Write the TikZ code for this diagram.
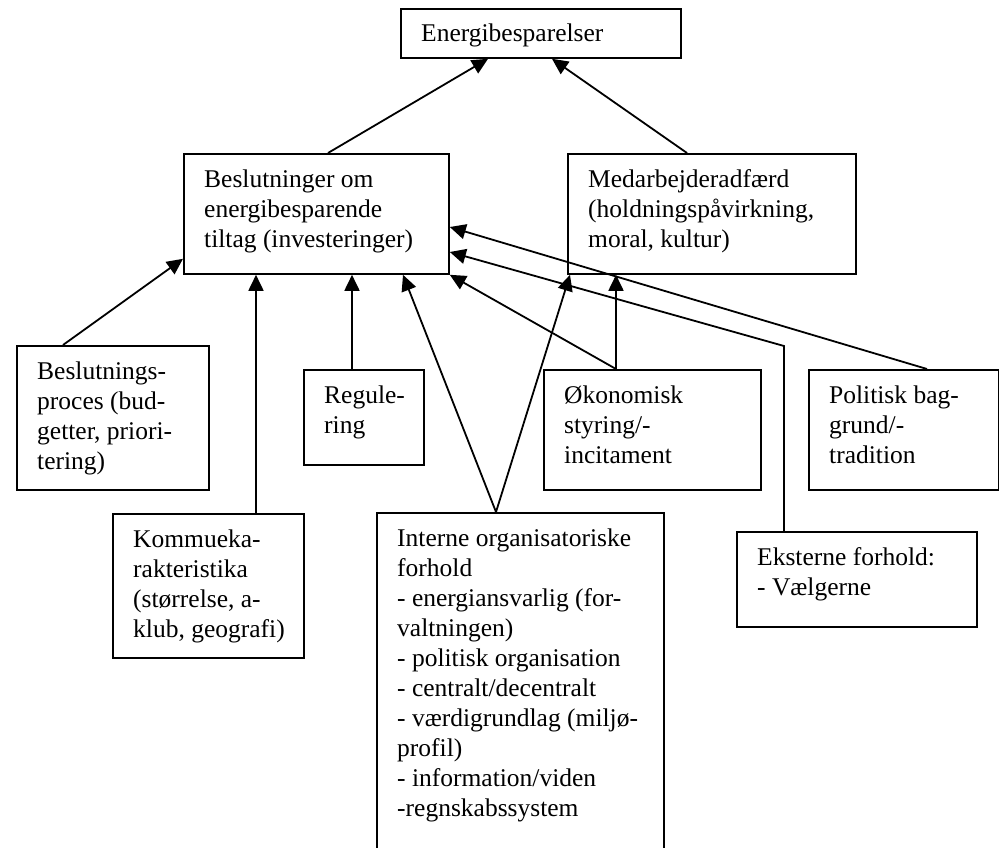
\documentclass[tikz,border=0pt]{standalone}
\usepackage{fontspec}
\setmainfont{Liberation Serif}
\usetikzlibrary{arrows.meta}

\tikzset{
  factor/.style={draw, line width=1.8pt, inner sep=0pt, anchor=north west},
  factortext/.style={inner sep=0pt, anchor=base west, font=\fontsize{25.5pt}{30pt}\selectfont},
  influence/.style={line width=1.8pt, -{Triangle[length=16pt,width=15pt]}},
}

% box at its top left corner, text set in from the corner
\newcommand{\factorbox}[6]{%
  \node[factor, minimum width=#4pt, minimum height=#5pt] (#1) at (#2,#3) {};
  \node[factortext] (#1-text) at ([xshift=21pt,yshift=-34pt]#1.north west)
    {\parbox[t]{500pt}{\raggedright #6}};
}

\begin{document}
\begin{tikzpicture}[x=1pt, y=-1pt]
\useasboundingbox (0,0) rectangle (999,848);

\factorbox{ene}{400}{8}{280}{49}{Energibesparelser}
\factorbox{bes}{183}{153}{265}{120}{Beslutninger om\\energibesparende\\tiltag (investeringer)}
\factorbox{med}{567}{153}{288}{120}{Medarbejderadfærd\\(holdningspåvirkning,\\moral, kultur)}
\factorbox{proc}{16}{345}{192}{144}{Beslutnings-\\proces (bud-\\getter, priori-\\tering)}
\factorbox{reg}{303}{369}{120}{95}{Regule-\\ring}
\factorbox{oko}{543}{369}{217}{120}{Økonomisk\\styring/-\\incitament}
\factorbox{pol}{808}{369}{190}{120}{Politisk bag-\\grund/-\\tradition}
\factorbox{kom}{112}{513}{191}{144}{Kommueka-\\rakteristika\\(størrelse, a-\\klub, geografi)}
\factorbox{int}{376}{512}{287}{360}{Interne organisatoriske\\forhold\\- energiansvarlig (for-\\valtningen)\\- politisk organisation\\- centralt/decentralt\\- værdigrundlag (miljø-\\profil)\\- information/viden\\-regnskabssystem}
\factorbox{eks}{736}{531}{240}{95}{Eksterne forhold:\\- Vælgerne}

\draw[influence] ([xshift=145pt]bes.north west) -- ([xshift=88pt]ene.south west);
\draw[influence] ([xshift=120pt]med.north west) -- ([xshift=152pt]ene.south west);
\draw[influence] ([xshift=47pt]proc.north west) -- ([yshift=16pt]bes.south west);
\draw[influence] ([xshift=144pt]kom.north west) -- ([xshift=73pt]bes.south west);
\draw[influence] ([xshift=49pt]reg.north west) -- ([xshift=169pt]bes.south west);
\draw[influence] ([xshift=120pt]int.north west) -- ([xshift=220pt]bes.south west);
\draw[influence] ([xshift=120pt]int.north west) -- ([xshift=3pt]med.south west);
\draw[influence] ([xshift=73pt]oko.north west) -- (bes.south east);
\draw[influence] ([xshift=73pt]oko.north west) -- ([xshift=49pt]med.south west);
\draw[influence] ([xshift=119pt]pol.north west) -- ([yshift=-74pt]bes.north east);
\draw[influence] ([xshift=48pt]eks.north west) -- ++(0,-185) -- ([yshift=-99pt]bes.north east);
\end{tikzpicture}
\end{document}
